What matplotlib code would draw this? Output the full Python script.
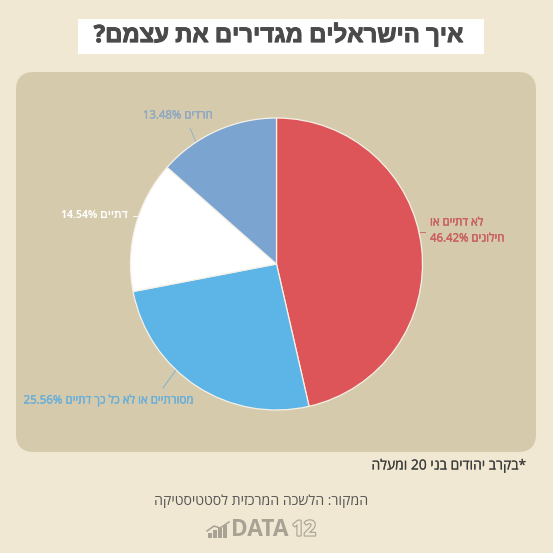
import re
import matplotlib
matplotlib.use("Agg")
import matplotlib.pyplot as plt
from matplotlib.patches import FancyBboxPatch, Rectangle
import matplotlib.patheffects as pe

# Data
categories = ["לא דתיים או\nחילונים", "מסורתיים או לא כל כך דתיים", "דתיים", "חרדים"]
values = [46.42, 25.56, 14.54, 13.48]
colors = ["#DE5559", "#5CB5E6", "#FFFFFF", "#7BA5D0"]
label_colors = ["#C9605F", "#6BB0D8", "#FFFFFF", "#8FA9C2"]
title = "איך הישראלים מגדירים את עצמם?"
note = "*בקרב יהודים בני 20 ומעלה"
source = "המקור: הלשכה המרכזית לסטטיסטיקה"

plt.rcParams["font.family"] = ["Open Sans", "Liberation Sans", "DejaVu Sans"]


def visual(s):
    """Logical Hebrew to visual order (matplotlib has no bidi)."""
    parts = re.findall(r"\d+(?:\.\d+)?%?|[^\d]+", s)
    return "".join(p if p[0].isdigit() else p[::-1] for p in parts[::-1])


def stroke(color, width=0.3):
    return [pe.withStroke(linewidth=width, foreground=color)]


W = 553
BG = "#F0E8D2"
fig = plt.figure(figsize=(W / 100, W / 100), dpi=100, facecolor=BG)
bg = fig.add_axes([0, 0, 1, 1])
bg.set_xlim(0, W)
bg.set_ylim(W, 0)
bg.axis("off")

# Title box
bg.add_patch(Rectangle((77.5, 19), 406.5, 35, fc="white", ec="none"))
bg.text(278, 35.5, visual(title), ha="center", va="center", fontsize=17.2,
        fontweight="bold", color="#4A4A4A", path_effects=stroke("#4A4A4A", 0.7))

# Panel
panel = FancyBboxPatch((34, 90), 484, 344, boxstyle="round,pad=18,rounding_size=18",
                       fc="#D6CAAC", ec="none", zorder=0)
bg.add_patch(panel)

# Pie
cx, cy, r = 276.5, 264, 146
pie = fig.add_axes([(cx - r) / W, 1 - (cy + r) / W, 2 * r / W, 2 * r / W])
wedges, _ = pie.pie(values, colors=colors, startangle=90, counterclock=False, radius=1,
                    wedgeprops=dict(edgecolor="#F6F1E6", linewidth=0.9, clip_on=False))
pie.set_xlim(-1, 1)
pie.set_ylim(-1, 1)
pie.set_aspect("equal")

# Leader lines
leaders = [((420, 232), (425, 232)), ((176, 370), (163, 388)),
           ((139, 216), (133, 216)), ((196, 142), (190, 128))]
for (p, q), c in zip(leaders, label_colors):
    bg.plot([p[0], q[0]], [p[1], q[1]], color=c, lw=0.7, zorder=1, alpha=0.85)

# Labels
line1, line2 = categories[0].split("\n")
bg.text(430, 223, visual(line1), ha="left", va="center", fontsize=8.2, color=label_colors[0],
        path_effects=stroke(label_colors[0]))
bg.text(430, 239, f"{values[0]:.2f}% " + visual(line2), ha="left", va="center",
        fontsize=8.2, color=label_colors[0], path_effects=stroke(label_colors[0]))
bg.text(193, 400, f"{values[1]:.2f}% " + visual(categories[1]), ha="right", va="center",
        fontsize=8.3, color=label_colors[1], path_effects=stroke(label_colors[1]))
bg.text(128, 216, f"{values[2]:.2f}% " + visual(categories[2]), ha="right", va="center",
        fontsize=7.6, fontweight="bold", color=label_colors[2])
bg.text(213, 116, f"{values[3]:.2f}% " + visual(categories[3]), ha="right", va="center",
        fontsize=8.2, color=label_colors[3], path_effects=stroke(label_colors[3]))

# Footer
bg.text(526, 466, visual(note), ha="right", va="center", fontsize=10, color="#3D3D3D",
        path_effects=stroke("#3D3D3D", 0.1))
bg.text(261.5, 501, visual(source), ha="center", va="center", fontsize=10.2, color="#555555")

# Logo
logo = "#A8A294"
for x0, h in zip([208, 213, 218, 223], [5, 8, 10, 13]):
    bg.add_patch(Rectangle((x0, 538 - h), 3.6, h, fc=logo, ec="none"))
bg.plot([207, 214, 220, 229], [531, 526, 528, 522], color=logo, lw=1.1)
bg.text(231, 530, "DATA", ha="left", va="center", fontsize=16.3, fontweight="bold", color=logo)
bg.text(292, 530, "12", ha="left", va="center", fontsize=15, fontweight="bold", color=BG,
        path_effects=[pe.withStroke(linewidth=1.6, foreground=logo)])

fig.savefig("out.png", dpi=100, facecolor=fig.get_facecolor())
